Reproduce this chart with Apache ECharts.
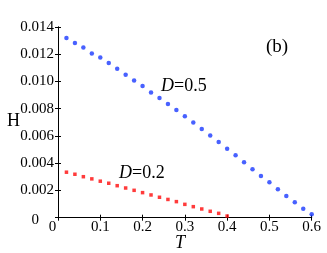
<!DOCTYPE html>
<html>
<head>
<meta charset="utf-8">
<script src="https://cdn.jsdelivr.net/npm/echarts@6/dist/echarts.min.js"></script>
<style>html,body{margin:0;padding:0;background:#fff}#c{width:327px;height:253px}</style>
</head>
<body>
<div id="c"></div>
<script>
const T_blue = [0.02,0.04,0.06,0.08,0.10,0.12,0.14,0.16,0.18,0.20,0.22,0.24,0.26,0.28,0.30,0.32,0.34,0.36,0.38,0.40,0.42,0.44,0.46,0.48,0.50,0.52,0.54,0.56,0.58,0.60];
const H_blue = [0.01319,0.01282,0.01250,0.01206,0.01176,0.01135,0.01093,0.01050,0.01007,0.00966,0.00920,0.00878,0.00835,0.00790,0.00745,0.00698,0.00651,0.00604,0.00555,0.00506,0.00459,0.00407,0.00356,0.00307,0.00260,0.00209,0.00160,0.00113,0.00066,0.00025];
const T_red = [0.02,0.04,0.06,0.08,0.10,0.12,0.14,0.16,0.18,0.20,0.22,0.24,0.26,0.28,0.30,0.32,0.34,0.36,0.38,0.40];
const H_red = [0.00334,0.00319,0.00301,0.00285,0.00268,0.00253,0.00235,0.00218,0.00201,0.00184,0.00167,0.00150,0.00134,0.00118,0.00098,0.00081,0.00064,0.00047,0.00032,0.00012];
const xTicks = [0,0.1,0.2,0.3,0.4,0.5,0.6];
const yTicks = [0,0.002,0.004,0.006,0.008,0.010,0.012,0.014];

const FONT = 'Liberation Serif';
const chart = echarts.init(document.getElementById('c'), null, {renderer:'canvas'});
const pair = (xs, ys) => xs.map((x,i)=>[x, ys[i]]);
const axisLine = {show:true, lineStyle:{color:'#000', width:1}};
const axisTick = {show:true, inside:true, length:3, lineStyle:{color:'#000', width:1}};
chart.setOption({
  animation:false,
  grid:{left:58, top:27, right:15.3, bottom:35.3, containLabel:false, outerBoundsMode:'none'},
  xAxis:[
    {type:'value', min:xTicks[0], max:xTicks[xTicks.length-1], interval:0.1, position:'bottom',
     axisLine, axisTick, splitLine:{show:false},
     axisLabel:{fontFamily:FONT, fontSize:15, color:'#000', margin:2,
       formatter:v=>{const r=Math.round(v*10)/10; return r===0?'{z|0}':String(r);},
       rich:{z:{fontFamily:FONT, fontSize:15, color:'#000', padding:[0,11,0,0]}}}},
    {type:'value', min:xTicks[0], max:xTicks[xTicks.length-1], interval:0.1, position:'top',
     axisLine, axisTick, axisLabel:{show:false}, splitLine:{show:false}}
  ],
  yAxis:[
    {type:'value', min:yTicks[0], max:yTicks[yTicks.length-1], interval:0.002, position:'left',
     axisLine, axisTick, splitLine:{show:false},
     axisLabel:{fontFamily:FONT, fontSize:15, color:'#000', margin:4,
       formatter:v=>{const r=Math.round(v*1000)/1000; return r===0?'{z|0}':r.toFixed(3);},
       rich:{z:{fontFamily:FONT, fontSize:15, color:'#000', padding:[4,15,0,0]}}}},
    {type:'value', min:yTicks[0], max:yTicks[yTicks.length-1], interval:0.002, position:'right',
     axisLine, axisTick, axisLabel:{show:false}, splitLine:{show:false}}
  ],
  series:[
    {type:'scatter', data:pair(T_blue,H_blue), symbol:'circle', symbolSize:4.5,
     itemStyle:{color:'#1a3aff'}, clip:false},
    {type:'scatter', data:pair(T_red,H_red), symbol:'rect', symbolSize:3.5,
     itemStyle:{color:'#ff0a0a'}, clip:false}
  ],
  graphic:[
    {type:'text', left:161, top:77, style:{text:'{i|D}=0.5', fill:'#000', font:'18px "Liberation Serif"',
      rich:{i:{fontStyle:'italic', fontFamily:FONT, fontSize:18}}}},
    {type:'text', left:119, top:164, style:{text:'{i|D}=0.2', fill:'#000', font:'18px "Liberation Serif"',
      rich:{i:{fontStyle:'italic', fontFamily:FONT, fontSize:18}}}},
    {type:'text', left:266, top:38, style:{text:'(b)', fill:'#000', font:'19px "Liberation Serif"'}},
    {type:'text', left:7, top:112, style:{text:'H', fill:'#000', font:'18px "Liberation Serif"'}},
    {type:'text', left:175, top:234, style:{text:'T', fill:'#000', font:'italic 18px "Liberation Serif"'}}
  ]
});
</script>
</body>
</html>
